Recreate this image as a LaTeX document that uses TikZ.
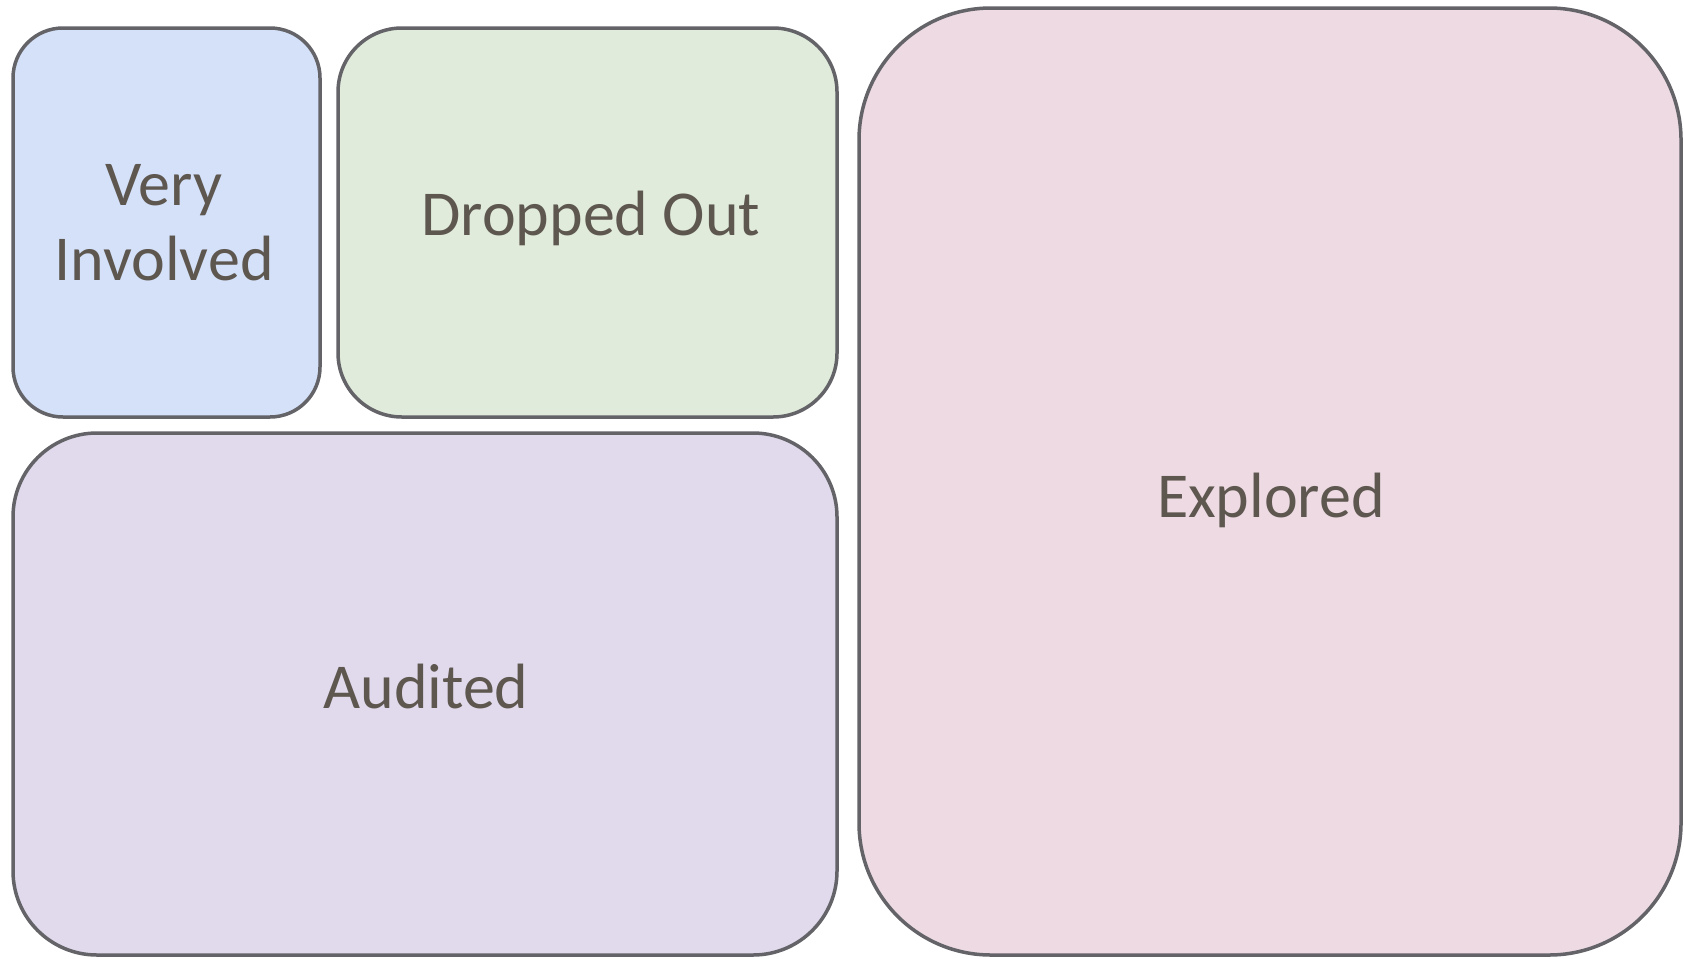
\documentclass[tikz,border=0pt]{standalone}
\usepackage{fontspec}
\setmainfont{Carlito}
\usepackage{tikz}

\definecolor{edgegrey}{RGB}{99,99,104}
\definecolor{textbrown}{RGB}{94,87,80}
\definecolor{involvedblue}{RGB}{212,225,248}
\definecolor{droppedgreen}{RGB}{224,235,219}
\definecolor{auditedlilac}{RGB}{225,218,236}
\definecolor{exploredpink}{RGB}{237,218,227}

\tikzset{
  tile/.style={draw=edgegrey, line width=1.75pt, inner sep=0pt},
  tilelabel/.style={text=textbrown, font=\fontsize{32}{37.5}\selectfont, inner sep=0pt}
}

\begin{document}
\begin{tikzpicture}[x=0.5pt,y=-0.5pt]
    % Frame
    \useasboundingbox (0,0) rectangle (1684,958);

    % Tiles
    \node[tile, fill=involvedblue, minimum width=153.5pt, minimum height=194.5pt, rounded corners=25pt] (vi) at (166.5,222.5) {};
    \node[tile, fill=droppedgreen, minimum width=249.5pt, minimum height=194.5pt, rounded corners=32pt] (do) at (587.5,222.5) {};
    \node[tile, fill=auditedlilac, minimum width=412pt, minimum height=261pt, rounded corners=42pt] (au) at (425,694) {};
    \node[tile, fill=exploredpink, minimum width=411pt, minimum height=473.5pt, rounded corners=66pt] (ex) at (1270,481.5) {};

    % Labels
    \node[tilelabel, align=center] (vilabel) at (164,223) {Very\\Involved};
    \node[tilelabel, anchor=base] (dolabel) at (591,235) {Dropped Out};
    \node[tilelabel, anchor=base] (aulabel) at (426,708) {Audited};
    \node[tilelabel, anchor=base] (exlabel) at (1271,517) {Explored};
\end{tikzpicture}
\end{document}
